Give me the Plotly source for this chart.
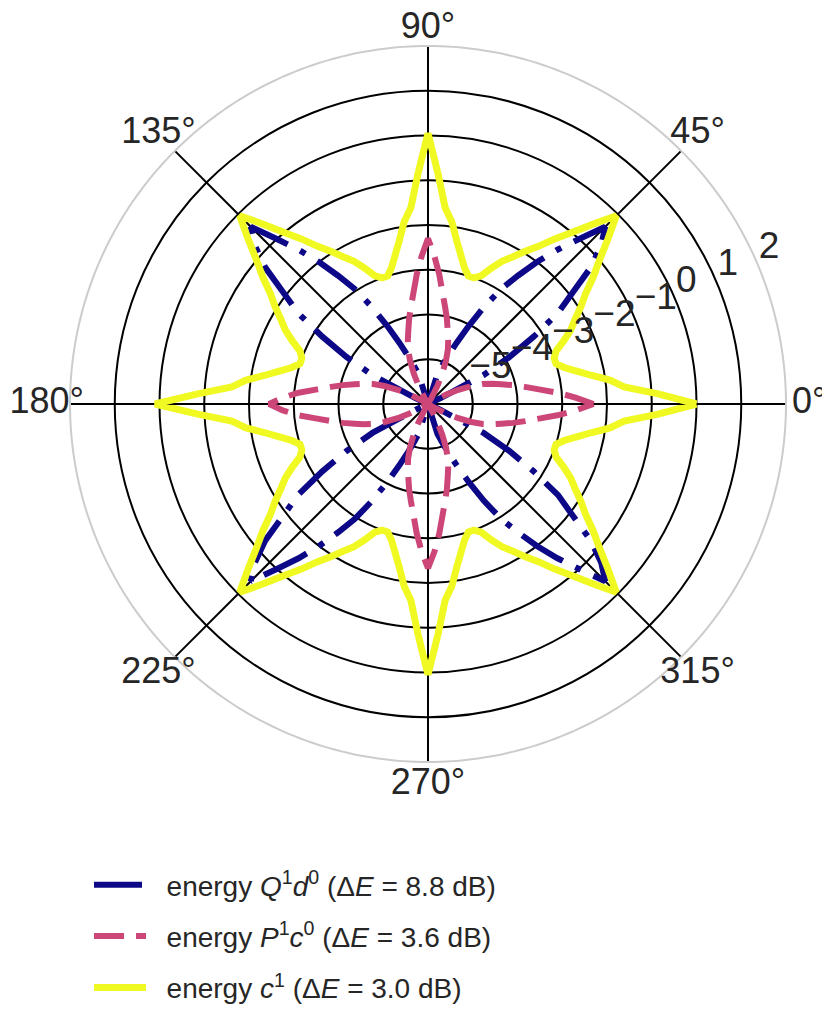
import plotly.graph_objects as go

# sampling angles (degrees), every 2.5 deg from 0 to 360
THETA = [i * 2.5 for i in range(145)]

# energy Q^1 d^0 (dB)
Q1D0 = [
    # 0 .. 90
    -6, -6, -6, -6, -6, -6, -6, -6, -6, -6, -5.7, -4.6, -3.9, -3.2, -2.45, -1.95, -1.25, -0.75, -0.4,
    -1.0, -1.5, -2.0, -2.5, -2.95, -3.5, -4.05, -4.5, -4.85, -5.1, -5.3, -6, -6, -6, -6, -6, -6, -6,
    # 92.5 .. 180
    -6, -6, -6, -6, -6, -6, -5.3, -5.1, -4.85, -4.5, -4.05, -3.5, -2.95, -2.5, -2.0, -1.5, -1.0, -0.4,
    -0.75, -1.25, -1.95, -2.45, -3.2, -3.9, -4.6, -5.7, -6, -6, -6, -6, -6, -6, -6, -6, -6, -6,
    # 182.5 .. 270
    -6, -6, -6, -6, -6, -6, -6, -6, -6, -5.7, -4.6, -3.9, -3.2, -2.45, -1.95, -1.25, -0.75, -0.4,
    -1.0, -1.5, -2.0, -2.5, -2.95, -3.5, -4.05, -4.5, -4.85, -5.1, -5.3, -6, -6, -6, -6, -6, -6, -6,
    # 272.5 .. 360
    -6, -6, -6, -6, -6, -6, -5.3, -5.1, -4.85, -4.5, -4.05, -3.5, -2.95, -2.5, -2.0, -1.5, -1.0, -0.4,
    -0.75, -1.25, -1.95, -2.45, -3.2, -3.9, -4.6, -5.7, -6, -6, -6, -6, -6, -6, -6, -6, -6, -6,
]

# energy P^1 c^0 (dB)
P1C0 = [
    # 0 .. 90
    -2.3, -2.7, -3.1, -3.5, -3.8, -4.05, -4.3, -4.5, -4.7, -4.95, -5.25, -5.55, -5.85,
    -6, -6, -6, -6, -6, -6, -6, -6, -6, -6, -6,
    -5.85, -5.55, -5.25, -4.95, -4.7, -4.5, -4.3, -4.05, -3.8, -3.5, -3.1, -2.7, -2.3,
    # 92.5 .. 180
    -2.7, -3.1, -3.5, -3.8, -4.05, -4.3, -4.5, -4.7, -4.95, -5.25, -5.55, -5.85,
    -6, -6, -6, -6, -6, -6, -6, -6, -6, -6, -6,
    -5.85, -5.55, -5.25, -4.95, -4.7, -4.5, -4.3, -4.05, -3.8, -3.5, -3.1, -2.75, -2.45,
    # 182.5 .. 270
    -2.75, -3.1, -3.5, -3.8, -4.05, -4.3, -4.5, -4.7, -4.95, -5.25, -5.55, -5.85,
    -6, -6, -6, -6, -6, -6, -6, -6, -6, -6, -6,
    -5.85, -5.55, -5.25, -4.95, -4.7, -4.5, -4.3, -4.05, -3.8, -3.5, -3.1, -2.7, -2.33,
    # 272.5 .. 360
    -2.7, -3.1, -3.5, -3.8, -4.05, -4.3, -4.5, -4.7, -4.95, -5.25, -5.55, -5.85,
    -6, -6, -6, -6, -6, -6, -6, -6, -6, -6, -6,
    -5.85, -5.55, -5.25, -4.95, -4.7, -4.5, -4.3, -4.05, -3.8, -3.5, -3.1, -2.7, -2.3,
]

# energy c^1 (dB)
C1 = [
    # 0 .. 90
    0.0, -0.85, -1.6, -1.9, -2.3, -2.6, -2.85, -3.0, -3.0, -2.9, -2.65, -2.4, -2.2, -1.95, -1.7,
    -1.35, -1.0, -0.55, -0.05, -0.55, -1.0, -1.35, -1.7, -1.95, -2.2, -2.4, -2.65, -2.9, -3.0,
    -3.0, -2.85, -2.6, -2.3, -1.9, -1.6, -0.85, 0.05,
    # 92.5 .. 180
    -0.85, -1.6, -1.9, -2.3, -2.6, -2.85, -3.0, -3.0, -2.9, -2.65, -2.4, -2.2, -1.95, -1.7,
    -1.35, -1.0, -0.55, -0.05, -0.55, -1.0, -1.35, -1.7, -1.95, -2.2, -2.4, -2.65, -2.9, -3.0,
    -3.0, -2.85, -2.6, -2.3, -1.9, -1.6, -0.85, 0.1,
    # 182.5 .. 270
    -0.85, -1.6, -1.9, -2.3, -2.6, -2.85, -3.0, -3.0, -2.9, -2.65, -2.4, -2.2, -1.95, -1.7,
    -1.35, -1.0, -0.55, -0.05, -0.55, -1.0, -1.35, -1.7, -1.95, -2.2, -2.4, -2.65, -2.9, -3.0,
    -3.0, -2.85, -2.6, -2.3, -1.9, -1.6, -0.85, 0.05,
    # 272.5 .. 360
    -0.85, -1.6, -1.9, -2.3, -2.6, -2.85, -3.0, -3.0, -2.9, -2.65, -2.4, -2.2, -1.95, -1.7,
    -1.35, -1.0, -0.55, -0.05, -0.55, -1.0, -1.35, -1.7, -1.95, -2.2, -2.4, -2.65, -2.9, -3.0,
    -3.0, -2.85, -2.6, -2.3, -1.9, -1.6, -0.85, 0.0,
]

NB = "\u00a0\u00a0"
NAMES = [
    NB + "energy <i>Q</i><sup>1</sup><i>d</i><sup>0</sup> (Δ<i>E</i> = 8.8 dB)",
    NB + "energy <i>P</i><sup>1</sup><i>c</i><sup>0</sup> (Δ<i>E</i> = 3.6 dB)",
    NB + "energy <i>c</i><sup>1</sup> (Δ<i>E</i> = 3.0 dB)",
]
COLORS = ["#0d0887", "#cc4778", "#f0f921"]
DASHES = ["48px,14px,6px,14px", "30px,12px", "solid"]
WIDTHS = [6, 6, 7]

R_MIN, R_MAX = -6, 2            # plotted radial extent (outer grey circle at R_MAX)
R_VIEW_MAX = 2.62               # extra room so angle labels sit inside the polar range
ANG_TICKS = [0, 45, 90, 135, 180, 225, 270, 315]
ANG_LABELS = ["0°", "45°", "90°", "135°", "180°", "225°", "270°", "315°"]
ANG_LABEL_R = [2.52, 2.52, 2.37, 2.52, 2.52, 2.52, 2.52, 2.52]
RAD_TICKS = [-5, -4, -3, -2, -1, 0, 1, 2]
RAD_GRID = [-5, -4, -3, -2, -1, 0, 1]
RAD_LABELS = ["−5", "−4", "−3", "−2", "−1", "0", "1", "2"]
RAD_LABEL_ANGLE = 22.5
CIRCLE_THETA = [i * 1.0 for i in range(361)]

FONT = "Liberation Sans, Arial, sans-serif"
TXT = "#262626"

fig = go.Figure()

# spokes (angular grid) from centre to outer circle
for a in ANG_TICKS:
    fig.add_trace(go.Scatterpolar(
        r=[R_MIN, R_MAX], theta=[a, a], mode="lines",
        line=dict(color="black", width=2), showlegend=False, hoverinfo="skip",
    ))
# outer grey boundary
fig.add_trace(go.Scatterpolar(
    r=[R_MAX] * len(CIRCLE_THETA), theta=CIRCLE_THETA, mode="lines",
    line=dict(color="#cccccc", width=2), showlegend=False, hoverinfo="skip",
))

for i, vals in enumerate([Q1D0, P1C0, C1]):
    fig.add_trace(go.Scatterpolar(
        r=vals, theta=THETA, mode="lines", name=NAMES[i],
        legendgroup=f"g{i}",
        line=dict(color=COLORS[i], width=WIDTHS[i], dash=DASHES[i]),
    ))

# angle labels
fig.add_trace(go.Scatterpolar(
    r=ANG_LABEL_R, theta=ANG_TICKS, mode="text",
    text=ANG_LABELS, textposition="middle center",
    textfont=dict(size=36, family=FONT, color=TXT),
    cliponaxis=False, showlegend=False, hoverinfo="skip",
))
# radial labels
fig.add_trace(go.Scatterpolar(
    r=RAD_TICKS, theta=[RAD_LABEL_ANGLE] * len(RAD_TICKS), mode="text",
    text=RAD_LABELS, textposition="top right",
    textfont=dict(size=37, family=FONT, color=TXT),
    cliponaxis=False, showlegend=False, hoverinfo="skip",
))

W, H = 830, 1013
CX, CY = 420, 396               # domain centre (plotly renders it ~8px right / 7px down)
PX_PER_UNIT = 44.75
RAD_PX = (R_VIEW_MAX - R_MIN) * PX_PER_UNIT
fig.update_layout(
    width=W, height=H,
    margin=dict(l=0, r=0, t=0, b=0),
    paper_bgcolor="white",
    font=dict(family=FONT, color=TXT),
    polar=dict(
        domain=dict(x=[(CX - RAD_PX) / W, (CX + RAD_PX) / W],
                    y=[1 - (CY + RAD_PX) / H, 1 - (CY - RAD_PX) / H]),
        bgcolor="white",
        angularaxis=dict(
            direction="counterclockwise", rotation=0,
            showticklabels=False, showgrid=False, showline=False, ticks="",
        ),
        radialaxis=dict(
            range=[R_MIN, R_VIEW_MAX], angle=22.5,
            tickmode="array", tickvals=RAD_GRID,
            showticklabels=False,
            showgrid=True, gridcolor="black", gridwidth=2,
            showline=False, ticks="",
        ),
    ),
    showlegend=True,
    legend=dict(
        x=81 / W, xanchor="left", y=1 - 852 / H, yanchor="top",
        font=dict(size=28, family=FONT, color=TXT),
        traceorder="grouped", tracegroupgap=12,
        itemwidth=52, bgcolor="rgba(0,0,0,0)",
    ),
)

fig.write_html("out.html")
